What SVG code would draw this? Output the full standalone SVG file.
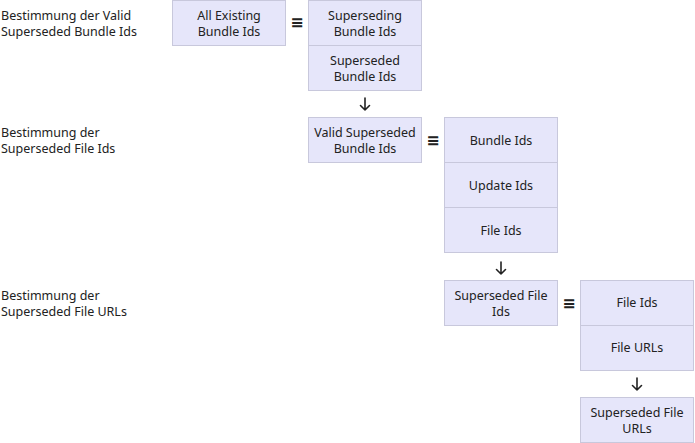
<svg xmlns="http://www.w3.org/2000/svg" width="695" height="443" viewBox="0 0 695 443">
<style>
text{font-family:"Noto Sans","Open Sans",sans-serif;font-size:12.5px;fill:#222}
.c{text-anchor:middle}
.b{fill:#e6e6fa;stroke:#c8c8dc;stroke-width:1}
.sym{font-family:"DejaVu Sans",sans-serif;font-size:16px;text-anchor:middle;font-weight:bold}
.ar{fill:none;stroke:#222;stroke-width:1.6;stroke-linecap:round;stroke-linejoin:round}
</style>
<rect width="695" height="443" fill="#fff"/>
<g id="labels">
<text x="1" y="20">Bestimmung der Valid</text>
<text x="1" y="36">Superseded Bundle Ids</text>
<text x="1" y="137">Bestimmung der</text>
<text x="1" y="153">Superseded File Ids</text>
<text x="1" y="300">Bestimmung der</text>
<text x="1" y="316">Superseded File URLs</text>
</g>
<g id="n1"><rect class="b" x="172.5" y="0.5" width="113" height="45"/><text class="c" x="229" y="20">All Existing</text><text class="c" x="229" y="36">Bundle Ids</text></g>
<g id="n2"><rect class="b" x="308.5" y="0.5" width="113" height="45"/><text class="c" x="365" y="20">Superseding</text><text class="c" x="365" y="36">Bundle Ids</text></g>
<g id="n3"><rect class="b" x="308.5" y="45.5" width="113" height="45"/><text class="c" x="365" y="65">Superseded</text><text class="c" x="365" y="81">Bundle Ids</text></g>
<g id="n4"><rect class="b" x="308.5" y="117.5" width="113" height="45"/><text class="c" x="365" y="137">Valid Superseded</text><text class="c" x="365" y="153">Bundle Ids</text></g>
<g id="n5"><rect class="b" x="444.5" y="117.5" width="113" height="45"/><text class="c" x="501" y="145">Bundle Ids</text></g>
<g id="n6"><rect class="b" x="444.5" y="162.5" width="113" height="45"/><text class="c" x="501" y="190">Update Ids</text></g>
<g id="n7"><rect class="b" x="444.5" y="207.5" width="113" height="45"/><text class="c" x="501" y="235">File Ids</text></g>
<g id="n8"><rect class="b" x="444.5" y="280.5" width="113" height="45"/><text class="c" x="501" y="300">Superseded File</text><text class="c" x="501" y="316">Ids</text></g>
<g id="n9"><rect class="b" x="580.5" y="280.5" width="113" height="45"/><text class="c" x="637" y="307">File Ids</text></g>
<g id="n10"><rect class="b" x="580.5" y="325.5" width="113" height="45"/><text class="c" x="637" y="352">File URLs</text></g>
<g id="n11"><rect class="b" x="580.5" y="397.5" width="113" height="45"/><text class="c" x="637" y="417">Superseded File</text><text class="c" x="637" y="433">URLs</text></g>
<g id="connectors">
<text class="sym" x="297" y="28">≡</text>
<text class="sym" x="433" y="146">≡</text>
<text class="sym" x="569" y="309">≡</text>
<path class="ar" d="M365 98V110M360.5 105.5L365 110L369.5 105.5"/>
<path class="ar" d="M501 262V274M496.5 269.5L501 274L505.5 269.5"/>
<path class="ar" d="M637 378V390M632.5 385.5L637 390L641.5 385.5"/>
</g>
</svg>
